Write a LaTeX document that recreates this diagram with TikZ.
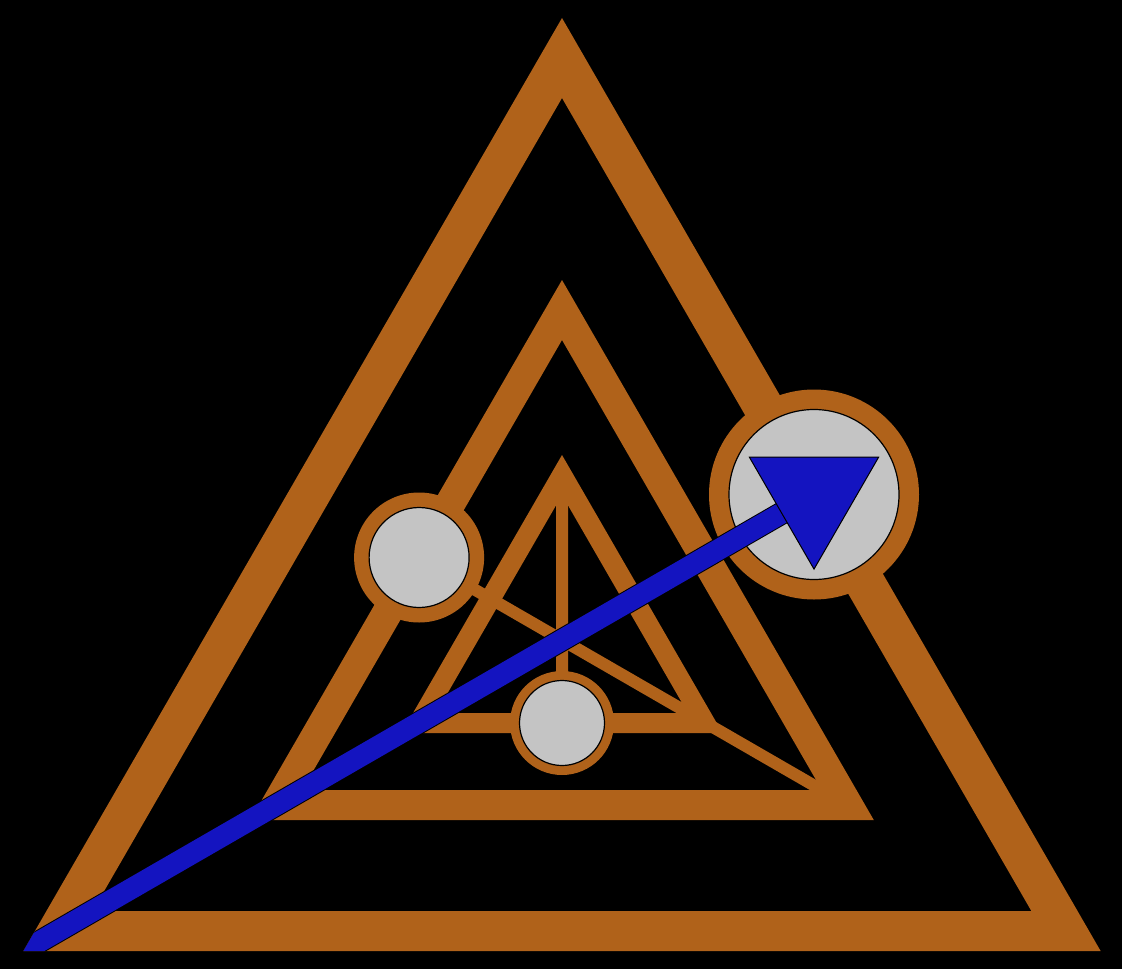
\documentclass[tikz,border=0pt]{standalone}
\usetikzlibrary{calc}
\definecolor{bronze}{RGB}{176,98,26}
\definecolor{discgray}{RGB}{196,196,196}
\definecolor{arrowblue}{RGB}{20,20,192}
\begin{document}
\begin{tikzpicture}[x=1pt,y=-1pt,
  tri/.style={draw=bronze,line join=miter},
  median/.style={draw=bronze,line width=12pt},
  ring/.style={fill=bronze},
  disc/.style={fill=discgray,draw=black,line width=1.2pt},
  shaftedge/.style={draw=black,line width=23pt},
  shaftcore/.style={draw=arrowblue,line width=21pt},
  tip/.style={fill=arrowblue,draw=black,line width=1pt,line join=miter}]
\fill[black] (0,0) rectangle (1122,969);
\useasboundingbox (0,0) rectangle (1122,969);
% outer triangle
\coordinate (OA) at (562,58);
\coordinate (OB) at (58,931);
\coordinate (OC) at (1066,931);
% middle triangle
\coordinate (MA) at (562,310);
\coordinate (MB) at (276.2,805);
\coordinate (MC) at (847.8,805);
% inner triangle
\coordinate (IA) at (562,475);
\coordinate (IB) at (418.8,723);
\coordinate (IC) at (705.2,723);
% midpoints
\coordinate (OM) at ($(OA)!0.5!(OC)$);
\coordinate (MM) at ($(MA)!0.5!(MB)$);
\coordinate (IM) at ($(IB)!0.5!(IC)$);
% triangles
\draw[tri,line width=40pt] (OA) -- (OB) -- (OC) -- cycle;
\draw[tri,line width=30pt] (MA) -- (MB) -- (MC) -- cycle;
\draw[tri,line width=20pt] (IA) -- (IB) -- (IC) -- cycle;
% medians
\draw[median] (MM) -- (MC);
\draw[median] (IA) -- (IM);
% circles
\fill[ring] (OM) circle (105pt);
\path[disc] (OM) circle (85pt);
\fill[ring] (MM) circle (65pt);
\path[disc] (MM) circle (50pt);
\fill[ring] (IM) circle (52pt);
\path[disc] (IM) circle (42.5pt);
% blue arrow
\coordinate (CA) at (562,18);
\coordinate (CB) at (23.4,951);
\coordinate (CC) at (1100.6,951);
\coordinate (S) at ($(OB)!-0.1!(OM)$);
\begin{scope}
\clip (CA) -- (CB) -- (CC) -- cycle;
\draw[shaftedge] (S) -- (OM);
\draw[shaftcore] (S) -- (OM);
\end{scope}
\coordinate (T1) at ($(OM)+(-64.6,-37.3)$);
\coordinate (T2) at ($(OM)+(64.6,-37.3)$);
\coordinate (T3) at ($(OM)+(0,74.6)$);
\path[tip] (T1) -- (T2) -- (T3) -- cycle;
\end{tikzpicture}
\end{document}
